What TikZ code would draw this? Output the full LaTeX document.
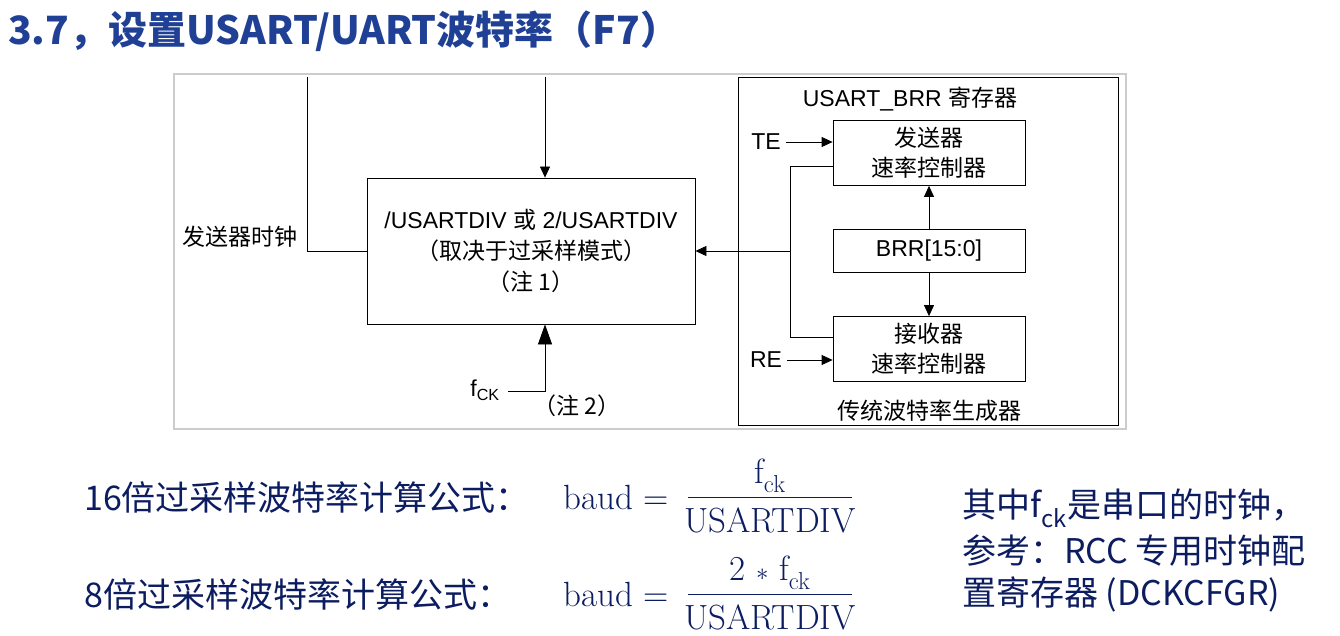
\documentclass[tikz,border=0pt]{standalone}
\usepackage{fontspec}
\setmainfont{Liberation Sans}
\newfontfamily\cjk{Noto Sans CJK SC}
\newfontfamily\lmr{Latin Modern Roman}
\usetikzlibrary{positioning,arrows.meta}
\definecolor{titleblue}{RGB}{32,64,150}
\definecolor{textblue}{RGB}{12,28,96}
\tikzset{
  blk/.style={draw,thick,inner sep=0pt},
  lbl/.style={font=\fontsize{23}{27}\selectfont,inner sep=0pt},
  arr/.style={thick,-{Triangle[length=11pt,width=10pt]}},
  body/.style={font=\fontsize{34}{40}\selectfont\cjk,text=textblue,inner sep=0pt,anchor=west},
  frac/.style={font=\fontsize{35}{40}\selectfont\lmr,text=textblue,inner sep=0pt}
}
\begin{document}
\begin{tikzpicture}[x=1pt,y=-1pt]
    \useasboundingbox (0,0) rectangle (1340,636);
    % title
    \node[anchor=west,inner sep=0pt,text=titleblue,font=\fontsize{39}{44}\selectfont\cjk\bfseries] (title) at (8,31) {3.7，设置USART/UART波特率（F7）};
    % picture frame
    \draw[gray!40,line width=4pt] (175,75) rectangle (1125,428);
    \fill[white] (175,75) rectangle (1125,428);
    \node[blk,minimum width=328,minimum height=146] (div) at (531,251) {};
    \node[lbl,align=center] (divtxt) at (531,251) {/USARTDIV {\cjk 或} 2/USARTDIV\\[4pt]{\cjk （取决于过采样模式）}\\[4pt]{\cjk （注 1）}};
    \coordinate (top1) at (307,77);
    \coordinate (top2) at (545,77);
    \draw[thick] (top1) |- (div.west);
    \draw[arr] (top2) -- (div.north -| top2);
    \node[lbl,anchor=east] (txclk) at (298,237) {\cjk 发送器时钟};
    \node[lbl] (fck) at (485,390) {f\textsubscript{CK}};
    \coordinate (fckend) at (508,391);
    \draw[thick,-{Triangle[length=20pt,width=14pt]}] (fckend) -| (div.south -| top2);
    \node[lbl] (note2) at (577,406) {\cjk （注 2）};
    % legacy generator
    \node[blk,minimum width=380,minimum height=348] (gen) at (928,251) {};
    \node[lbl] (genname) at (910,99) {USART\_BRR {\cjk 寄存器}};
    \node[lbl] (genfoot) at (929,411) {\cjk 传统波特率生成器};
    \node[blk,minimum width=192,minimum height=65,align=center,lbl] (txrate) at (929,153) {\cjk 发送器\\[3pt]\cjk 速率控制器};
    \node[blk,minimum width=192,minimum height=43,lbl] (brr) at (929,251) {BRR[15:0]};
    \node[blk,minimum width=192,minimum height=65,align=center,lbl] (rxrate) at (929,349) {\cjk 接收器\\[3pt]\cjk 速率控制器};
    \node[lbl] (te) at (766,142) {TE};
    \node[lbl] (re) at (766,360) {RE};
    \draw[arr] (te.east) ++(5,0) -- (te.east -| txrate.west);
    \draw[arr] (re.east) ++(5,0) -- (re.east -| rxrate.west);
    \draw[arr] (brr) -- (txrate);
    \draw[arr] (brr) -- (rxrate);
    \coordinate (bus) at (790,251);
    \draw[thick] (txrate.west |- 0,166) -| (bus) |- (rxrate.west |- 0,337);
    \draw[arr] (bus) -- (div.east);
    % formulas
    \node[body] (f16) at (84,497) {16倍过采样波特率计算公式：};
    \node[frac,anchor=west] (baud1) at (563,497) {baud =};
    \draw[textblue,thick] (688,497) -- (852,497);
    \node[frac] (num1) at (770,476) {f\textsubscript{ck}};
    \node[frac] (den1) at (770,520) {USARTDIV};
    \node[body] (f8) at (84,594) {8倍过采样波特率计算公式：};
    \node[frac,anchor=west] (baud2) at (563,594) {baud =};
    \draw[textblue,thick] (688,594) -- (852,594);
    \node[frac] (num2) at (770,573) {2 $\ast$ f\textsubscript{ck}};
    \node[frac] (den2) at (770,617) {USARTDIV};
    \node[body] (note) at (962,508) {其中f\textsubscript{ck}是串口的时钟，};
    \node[body] (note2b) at (962,551) {参考：RCC 专用时钟配};
    \node[body] (note3) at (962,594) {置寄存器 (DCKCFGR)};
\end{tikzpicture}
\end{document}
